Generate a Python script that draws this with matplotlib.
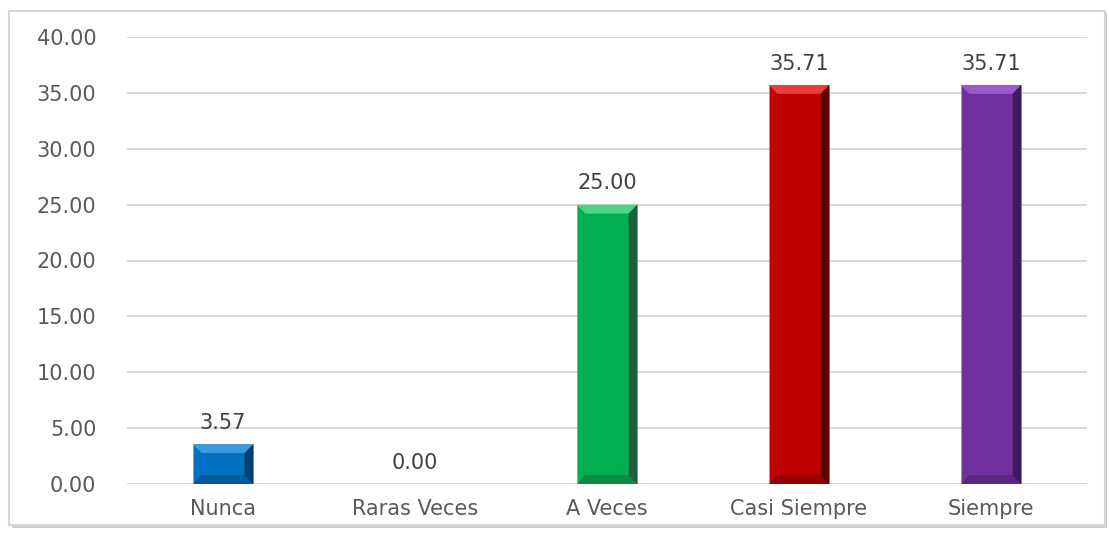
import matplotlib.pyplot as plt
from matplotlib.patches import Polygon, Rectangle
import numpy as np

categories = ['Nunca', 'Raras Veces', 'A Veces', 'Casi Siempre', 'Siempre']
values = [3.57, 0.00, 25.00, 35.71, 35.71]
yticks = [0, 5, 10, 15, 20, 25, 30, 35, 40]

# colores: base, claro (bisel superior), oscuro (lado derecho / inferior)
base_colors = ['#0070C0', '#00B050', '#00B050', '#C00000', '#7030A0']
light_colors = ['#3A9BE0', '#4FD488', '#4FD488', '#F03A3A', '#9A5AD0']
dark_colors = ['#00406E', '#1E5E3A', '#1E5E3A', '#5E0000', '#3E1A5E']

fig = plt.figure(figsize=(11.09, 5.33), dpi=100)
fig.patch.set_facecolor('white')

# marco con sombra
fig.add_artist(Rectangle((12 / 1109, 5 / 533), 1095 / 1109, 515 / 533, transform=fig.transFigure,
                         facecolor='#d0d0d0', edgecolor='none', zorder=0))
fig.add_artist(Rectangle((9 / 1109, 8 / 533), 1096 / 1109, 514 / 533, transform=fig.transFigure,
                         facecolor='white', edgecolor='#d6d6d6', linewidth=1.5, zorder=0))

ax = fig.add_axes([127 / 1109, 1 - 484 / 533, 960 / 1109, 447 / 533])
ax.set_facecolor('none')
x = np.arange(len(categories))
width = 0.315
bars = ax.bar(x, values, width=width, color=base_colors, edgecolor='#a0a0a0', linewidth=0.6, zorder=3)

# bisel
bx = 0.045  # unidades x
by = 0.8    # unidades y
for bar, lc, dc in zip(bars, light_colors, dark_colors):
    h = bar.get_height()
    if h <= 0:
        continue
    x0 = bar.get_x()
    x1 = x0 + bar.get_width()
    b = min(by, h / 2)
    ax.add_patch(Polygon([[x0, h], [x1, h], [x1 - bx, h - b], [x0 + bx, h - b]],
                         closed=True, facecolor=lc, edgecolor='none', zorder=4))
    ax.add_patch(Polygon([[x1, h], [x1, 0], [x1 - bx, b], [x1 - bx, h - b]],
                         closed=True, facecolor=dc, edgecolor='none', zorder=4))
    ax.add_patch(Polygon([[x0, 0], [x1, 0], [x1 - bx, b], [x0 + bx, b]],
                         closed=True, facecolor=dc, edgecolor='none', alpha=0.45, zorder=4))

for bar, v in zip(bars, values):
    ax.text(bar.get_x() + bar.get_width() / 2, v + 1.0, '%.2f' % v,
            ha='center', va='bottom', fontsize=15, color='#404040', zorder=5)

ax.set_xlim(-0.5, len(categories) - 0.5)
ax.set_ylim(0, 40)
ax.set_yticks(yticks)
ax.set_yticklabels(['%.2f' % t for t in yticks])
ax.set_xticks(x)
ax.set_xticklabels(categories)
ax.tick_params(axis='both', length=0, labelsize=15, labelcolor='#595959')
ax.tick_params(axis='y', pad=22)
ax.tick_params(axis='x', pad=11)
ax.yaxis.grid(True, color='#d9d9d9', linewidth=1.5, zorder=0)
ax.set_axisbelow(True)
for s in ax.spines.values():
    s.set_visible(False)

plt.savefig('out.png', dpi=100)
